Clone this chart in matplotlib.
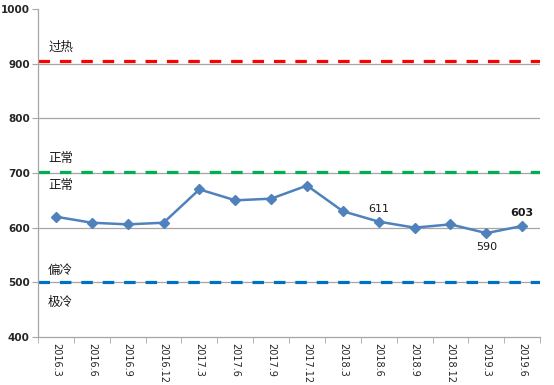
import matplotlib
matplotlib.use('Agg')
import matplotlib.pyplot as plt
import numpy as np

plt.rcParams['font.family'] = ['DejaVu Sans', 'Noto Sans CJK SC']

periods = ['2016.3', '2016.6', '2016.9', '2016.12', '2017.3', '2017.6', '2017.9',
           '2017.12', '2018.3', '2018.6', '2018.9', '2018.12', '2019.3', '2019.6']
values = [620, 609, 606, 609, 670, 650, 653, 677, 630, 611, 600, 606, 590, 603]

# reference levels and zone labels
levels = [904, 702, 500]
level_colors = ['#FF0000', '#00B050', '#0070C0']
zone_names = ['过热', '正常', '正常', '偏冷', '极冷']
zone_y = [930, 727, 677, 522, 463]

# points with value labels
labelled = {'2018.6': 'above', '2019.3': 'below', '2019.6': 'above'}

fig = plt.figure(figsize=(5.54, 3.85), dpi=100)
ax = fig.add_axes([0.0686, 0.1247, 0.9064, 0.852])

x = np.arange(len(periods))
ax.set_xlim(-0.5, len(periods) - 0.5)
ax.set_ylim(400, 1000)

for yv in range(500, 1000, 100):
    ax.axhline(yv, color='#A6A6A6', lw=0.9, zorder=1)

for lv, c in zip(levels, level_colors):
    ax.axhline(lv, color=c, lw=2.3, dashes=(3.6, 3.1), zorder=2)

ax.plot(x, values, color='#4F81BD', lw=1.8, marker='D', ms=5, zorder=3)

for name, yv in zip(zone_names, zone_y):
    ax.text(-0.22, yv, name, fontsize=9, family=['Noto Sans CJK SC'],
            va='center', ha='left', color='#1a1a1a')

for p, pos in labelled.items():
    i = periods.index(p)
    v = values[i]
    off = 24 if pos == 'above' else -26
    ax.text(i, v + off, str(v), fontsize=8, ha='center', va='center',
            color='#1a1a1a', fontweight='bold' if p == '2019.6' else 'normal')

ax.set_yticks(range(400, 1001, 100))
ax.set_yticklabels([str(v) for v in range(400, 1001, 100)], fontsize=7.5,
                   fontweight='bold', color='#262626')
ax.set_xticks(x)
ax.set_xticklabels(periods, rotation=-90, fontsize=7, color='#262626')
ax.tick_params(axis='x', length=0, pad=4)
ax.set_xticks(np.arange(-0.5, len(periods)), minor=True)
ax.tick_params(axis='x', which='minor', length=4, color='#A6A6A6')
ax.tick_params(axis='y', length=4, color='#A6A6A6', pad=2)

for s in ['top', 'right']:
    ax.spines[s].set_visible(False)
for s in ['left', 'bottom']:
    ax.spines[s].set_color('#A6A6A6')
    ax.spines[s].set_linewidth(0.9)

plt.savefig('out.png', dpi=100)
